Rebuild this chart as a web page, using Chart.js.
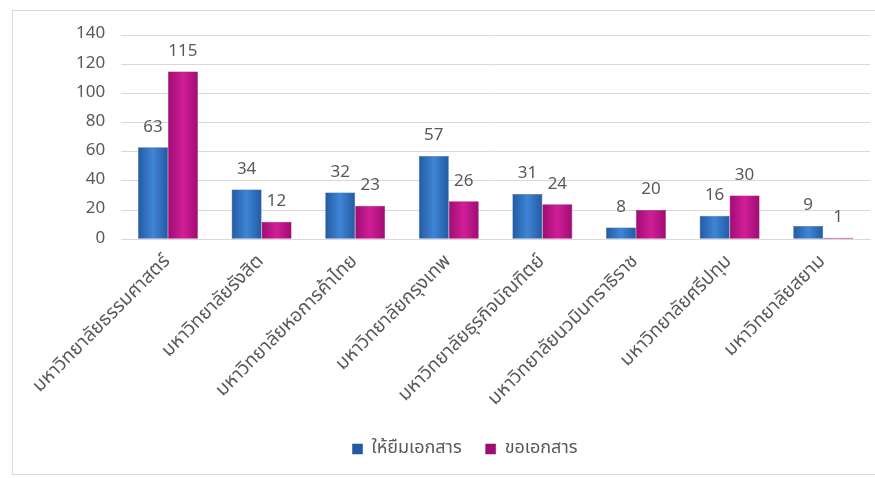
<!DOCTYPE html>
<html>
<head>
<meta charset="utf-8">
<script src="https://cdn.jsdelivr.net/npm/chart.js@4"></script>
<style>
  html, body { margin: 0; padding: 0; background: #fff; }
  #wrap { position: absolute; left: 12px; top: 10px; width: 875px; height: 465px;
          border: 1px solid #d9d9d9; box-sizing: border-box; }
  #holder { position: absolute; left: 0; top: 0; width: 875px; height: 478px; }
</style>
</head>
<body>
<div id="wrap"></div>
<div id="holder"><canvas id="chart"></canvas></div>
<script>
const universities = [
    'มหาวิทยาลัยธรรมศาสตร์',
    'มหาวิทยาลัยรังสิต',
    'มหาวิทยาลัยหอการค้าไทย',
    'มหาวิทยาลัยกรุงเทพ',
    'มหาวิทยาลัยธุรกิจบัณฑิตย์',
    'มหาวิทยาลัยนวมินทราธิราช',
    'มหาวิทยาลัยศรีปทุม',
    'มหาวิทยาลัยสยาม'
];
const lendDocs = [63, 34, 32, 57, 31, 8, 16, 9];
const requestDocs = [115, 12, 23, 26, 24, 20, 30, 1];
const seriesNames = ['ให้ยืมเอกสาร', 'ขอเอกสาร'];

const FONT = "Tahoma, 'Noto Sans Thai', 'Noto Sans', 'DejaVu Sans', sans-serif";
const GREY = '#595959';
const CAT_PCT = 0.64;

// horizontal gradient so bars look a bit like the 3d excel bars
function barGradient(ctx, dark, light) {
    const chart = ctx.chart;
    const xs = chart.scales && chart.scales.x;
    if (!xs || !chart.chartArea || ctx.dataIndex === undefined) return dark;
    const center = xs.getPixelForValue(ctx.dataIndex);
    const w = xs.width / universities.length * CAT_PCT / 2;
    const x0 = ctx.datasetIndex === 0 ? center - w : center;
    const x1 = x0 + w;
    if (!isFinite(x0) || !isFinite(x1)) return dark;
    const g = chart.ctx.createLinearGradient(x0, 0, x1, 0);
    g.addColorStop(0, dark);
    g.addColorStop(0.5, light);
    g.addColorStop(1, dark);
    return g;
}

const valueLabels = {
    id: 'valueLabels',
    afterDatasetsDraw(chart) {
        const c = chart.ctx;
        c.save();
        c.font = '17px ' + FONT;
        c.fillStyle = GREY;
        c.textAlign = 'center';
        c.textBaseline = 'middle';
        chart.data.datasets.forEach((ds, i) => {
            chart.getDatasetMeta(i).data.forEach((bar, j) => {
                c.fillText(ds.data[j], bar.x, bar.y - 19);
            });
        });
        c.restore();
    }
};

const ctx = document.getElementById('chart').getContext('2d');
new Chart(ctx, {
    type: 'bar',
    data: {
        labels: universities,
        datasets: [{
            label: seriesNames[0],
            data: lendDocs,
            backgroundColor: c => barGradient(c, '#235aa3', '#3f85d6'),
            borderColor: '#1f4f8f',
            borderWidth: 0.5,
            categoryPercentage: CAT_PCT,
            barPercentage: 1.0
        }, {
            label: seriesNames[1],
            data: requestDocs,
            backgroundColor: c => barGradient(c, '#a00c72', '#cf1f97'),
            borderColor: '#820a5c',
            borderWidth: 0.5,
            categoryPercentage: CAT_PCT,
            barPercentage: 1.0
        }]
    },
    options: {
        responsive: true,
        maintainAspectRatio: false,
        animation: false,
        layout: { padding: { left: 60, right: 5, top: 35, bottom: 10 } },
        plugins: {
            legend: {
                position: 'bottom',
                labels: {
                    boxWidth: 10, boxHeight: 10, padding: 24,
                    color: GREY, font: { size: 18, family: FONT }
                }
            },
            tooltip: { enabled: false }
        },
        scales: {
            x: {
                grid: { display: false },
                border: { color: '#d9d9d9' },
                afterFit(scale) {
                    scale.paddingLeft = 0;
                    scale.paddingRight = 0;
                    scale.height += 1;
                },
                ticks: {
                    color: GREY, font: { size: 19, family: FONT }, padding: 4,
                    minRotation: 45, maxRotation: 45, autoSkip: false
                }
            },
            y: {
                min: 0, max: 140,
                grid: { color: '#d9d9d9', drawTicks: false },
                border: { display: false },
                ticks: { stepSize: 20, color: GREY, padding: 16, font: { size: 17, family: FONT } }
            }
        }
    },
    plugins: [valueLabels]
});
</script>
</body>
</html>
